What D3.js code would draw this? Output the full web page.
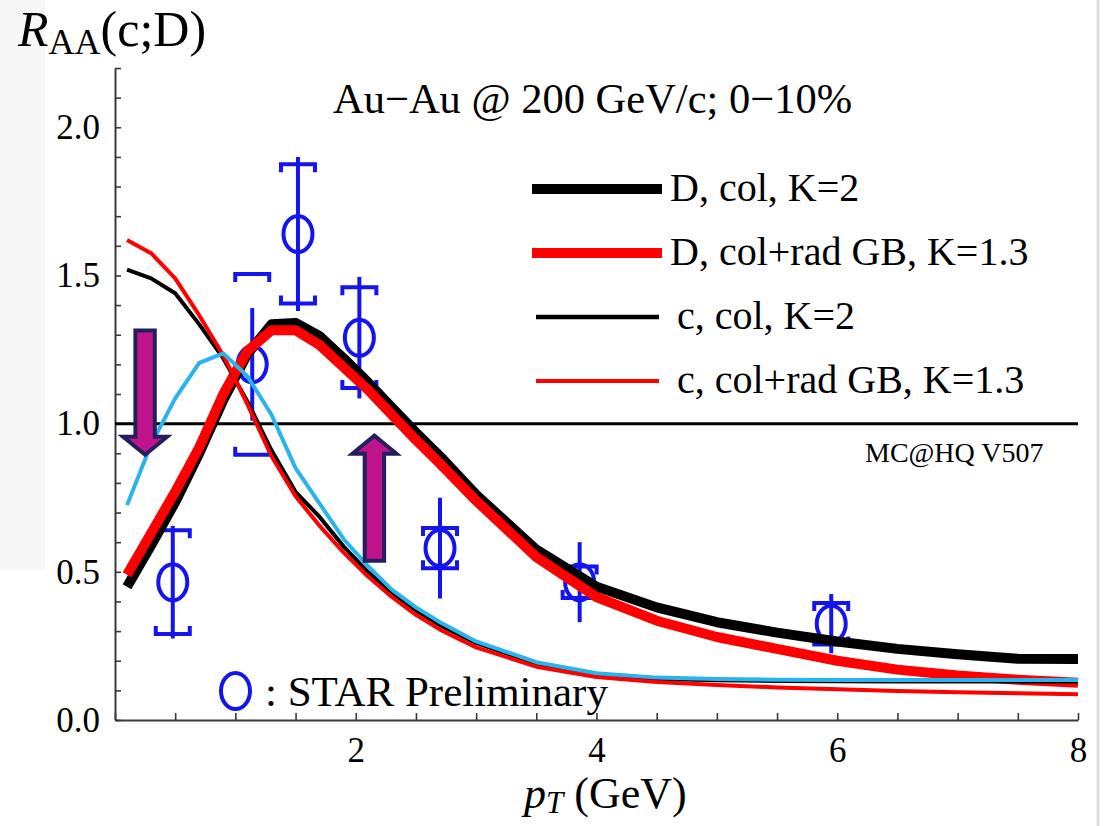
<!DOCTYPE html>
<html>
<head>
<meta charset="utf-8">
<script src="https://cdn.jsdelivr.net/npm/d3@7/dist/d3.min.js"></script>
<style>
  html, body { margin: 0; padding: 0; background: #ffffff; }
  svg { display: block; }
  text { font-family: "Liberation Serif", "Times New Roman", serif; fill: #000; }
</style>
</head>
<body>
<svg id="chart" width="1106" height="826"></svg>
<script>
// ---------------- DATA ----------------
const pT = [0.1,0.3,0.5,0.7,0.9,1.1,1.3,1.5,1.7,1.9,2.1,2.3,2.5,2.7,3.0,3.5,4.0,4.5,5.0,5.5,6.0,6.5,7.0,7.5,8.0];

// D, col, K=2 (thick black)
const dColK2 = [0.45,0.59,0.735,0.90,1.08,1.235,1.335,1.34,1.295,1.22,1.14,1.055,0.97,0.89,0.76,0.575,0.45,0.38,0.33,0.295,0.265,0.24,0.222,0.207,0.206];
// D, col+rad GB, K=1.3 (thick red)
const dColRadK13 = [0.49,0.63,0.77,0.92,1.10,1.245,1.315,1.315,1.265,1.19,1.115,1.03,0.945,0.865,0.74,0.55,0.415,0.335,0.28,0.24,0.20,0.17,0.15,0.136,0.126];
// c, col, K=2 (thin black)
const cColK2 = [1.52,1.49,1.44,1.335,1.22,1.075,0.91,0.77,0.685,0.585,0.50,0.43,0.37,0.32,0.26,0.19,0.152,0.138,0.134,0.132,0.131,0.13,0.13,0.13,0.13];
// c, col+rad GB, K=1.3 (thin red)
const cColRadK13 = [1.62,1.575,1.49,1.365,1.23,1.065,0.89,0.755,0.655,0.565,0.485,0.415,0.355,0.305,0.245,0.18,0.145,0.128,0.118,0.11,0.104,0.098,0.094,0.09,0.087];
// unlabeled cyan curve
const cyanCurve = [0.725,0.93,1.085,1.205,1.237,1.16,1.03,0.85,0.73,0.61,0.52,0.44,0.38,0.33,0.265,0.195,0.158,0.143,0.138,0.136,0.135,0.135,0.135,0.135,0.135];

// STAR Preliminary points
const starPt   = [0.48, 1.14, 1.52, 2.03, 2.70, 3.86, 5.95];
const starRaa  = [0.465, 1.20, 1.64, 1.29, 0.58, 0.465, 0.325];
const starStat = [0.19, 0.19, 0.26, 0.205, 0.17, 0.135, 0.10];
const starSys  = [0.175, 0.305, 0.235, 0.17, 0.068, 0.053, 0.07];

// Axis ticks
const xMinorTicks = [0,0.5,1,1.5,2,2.5,3,3.5,4,4.5,5,5.5,6,6.5,7,7.5,8];
const xLabelTicks = [2,4,6,8];
const yMinorTicks = [0,0.1,0.2,0.3,0.4,0.5,0.6,0.7,0.8,0.9,1.0,1.1,1.2,1.3,1.4,1.5,1.6,1.7,1.8,1.9,2.0,2.1,2.2];
const yLabelTicks = [0,0.5,1.0,1.5,2.0];

// Legend
const legendLabels = ["D, col, K=2", "D, col+rad GB, K=1.3", "c, col, K=2", "c, col+rad GB, K=1.3"];
const legendColors = ["#000000", "#ff0000", "#000000", "#ff0000"];
const legendWidths = [10, 10, 4.5, 4];

// Annotation arrows (position in data units)
const arrowPt   = [0.25, 2.155];
const arrowTail = [1.314, 0.537];
const arrowTip  = [0.895, 0.9595];

// ---------------- CHART ----------------
const svg = d3.select("#chart");
const x = d3.scaleLinear().domain([0, 8]).range([115, 1078]);
const y = d3.scaleLinear().domain([0, 2.2]).range([720, 68]);

// faint background panels of the original slide
svg.append("rect").attr("x", 0).attr("y", 0).attr("width", 45).attr("height", 570).attr("fill", "#f7f7f7");
svg.append("line").attr("x1", 1098).attr("x2", 1098).attr("y1", 0).attr("y2", 826)
   .attr("stroke", "#dcdcdc").attr("stroke-width", 3);

const axisColor = "#3a3a3a";

// Y axis
const yAx = svg.append("g").attr("transform", `translate(${x(0)},0)`)
  .call(d3.axisLeft(y).tickValues(yMinorTicks).tickSizeInner(-6).tickSizeOuter(0).tickFormat(""));
yAx.select(".domain").attr("stroke", axisColor).attr("stroke-width", 2);
yAx.selectAll(".tick line").attr("stroke", axisColor).attr("stroke-width", 1.6);

const yLab = svg.append("g").attr("transform", `translate(${x(0)},0)`)
  .call(d3.axisLeft(y).tickValues(yLabelTicks).tickSize(0).tickPadding(15).tickFormat(d3.format(".1f")));
yLab.select(".domain").remove();
yLab.selectAll("text").attr("font-size", 35).attr("font-family", "Liberation Serif, Times New Roman, serif").attr("fill", "#000");

// X axis
const xAx = svg.append("g").attr("transform", `translate(0,${y(0)})`)
  .call(d3.axisBottom(x).tickValues(xMinorTicks).tickSizeInner(-7).tickSizeOuter(0).tickFormat(""));
xAx.select(".domain").attr("stroke", axisColor).attr("stroke-width", 2);
xAx.selectAll(".tick line").attr("stroke", axisColor).attr("stroke-width", 1.6);

const xLab = svg.append("g").attr("transform", `translate(0,${y(0)})`)
  .call(d3.axisBottom(x).tickValues(xLabelTicks).tickSize(0).tickPadding(17).tickFormat(d3.format("d")));
xLab.select(".domain").remove();
xLab.selectAll("text").attr("font-size", 35).attr("font-family", "Liberation Serif, Times New Roman, serif").attr("fill", "#000");

// Reference line at 1
svg.append("line").attr("x1", x(0)).attr("x2", x(8)).attr("y1", y(1)).attr("y2", y(1))
   .attr("stroke", "#000").attr("stroke-width", 3);

// STAR points
const blue = "#1414f0";
const capHalf = 17, capTick = 8;
const gPts = svg.append("g").attr("fill", "none").attr("stroke", blue).attr("stroke-width", 4);
starPt.forEach((p, i) => {
  const cx = x(p), cy = y(starRaa[i]);
  const g = gPts.append("g");
  g.append("line").attr("x1", cx).attr("x2", cx)
    .attr("y1", y(starRaa[i] + starStat[i])).attr("y2", y(starRaa[i] - starStat[i]));
  const yt = y(starRaa[i] + starSys[i]), yb = y(starRaa[i] - starSys[i]);
  g.append("path").attr("d", `M${cx-capHalf},${yt+capTick}V${yt}H${cx+capHalf}V${yt+capTick}`);
  g.append("path").attr("d", `M${cx-capHalf},${yb-capTick}V${yb}H${cx+capHalf}V${yb-capTick}`);
  g.append("ellipse").attr("cx", cx).attr("cy", cy).attr("rx", 14.5).attr("ry", 18).attr("fill", "none");
});

// Curves
const line = d3.line().x((d, i) => x(pT[i])).y(d => y(d)).curve(d3.curveLinear);
const curves = [
  {v: dColK2, c: "#000000", w: 10},
  {v: dColRadK13, c: "#ff0000", w: 10},
  {v: cColK2, c: "#000000", w: 4},
  {v: cColRadK13, c: "#ff0000", w: 4},
  {v: cyanCurve, c: "#2ab4ee", w: 4}
];
curves.forEach(cv => {
  svg.append("path").datum(cv.v).attr("d", line)
    .attr("fill", "none").attr("stroke", cv.c).attr("stroke-width", cv.w)
    .attr("stroke-linejoin", "round").attr("stroke-linecap", "butt");
});

// Arrows
const sw = 9.7, hw = 22, hl = 18;
arrowPt.forEach((p, i) => {
  const xc = x(p), yT = y(arrowTail[i]), yP = y(arrowTip[i]);
  const dir = Math.sign(yP - yT);
  const yB = yP - dir * hl;
  const d = `M${xc-sw},${yT}L${xc+sw},${yT}L${xc+sw},${yB}L${xc+hw},${yB}L${xc},${yP}L${xc-hw},${yB}L${xc-sw},${yB}Z`;
  svg.append("path").attr("d", d).attr("fill", "#c0148d").attr("stroke", "#231f5e")
    .attr("stroke-width", 4).attr("stroke-linejoin", "miter");
});

// Legend
const legY = [189, 253, 317, 381];
const legX1 = [532, 532, 536, 536], legX2 = [662, 662, 659, 659];
const legTX = [670, 670, 677, 677];
legendLabels.forEach((lab, i) => {
  svg.append("text").attr("x", legTX[i]).attr("y", legY[i] + 12).attr("font-size", 40).text(lab);
  svg.append("line").attr("x1", legX1[i]).attr("x2", legX2[i]).attr("y1", legY[i]).attr("y2", legY[i])
    .attr("stroke", legendColors[i]).attr("stroke-width", legendWidths[i]);
});

// Annotations
svg.append("text").attr("x", 333).attr("y", 113).attr("font-size", 42.5).text("Au\u2212Au @ 200 GeV/c; 0\u221210%");
svg.append("text").attr("x", 865).attr("y", 462).attr("font-size", 28).text("MC@HQ V507");

// STAR legend
svg.append("ellipse").attr("cx", 235.5).attr("cy", 691).attr("rx", 14.5).attr("ry", 18)
  .attr("fill", "none").attr("stroke", blue).attr("stroke-width", 4);
svg.append("text").attr("x", 265).attr("y", 706).attr("font-size", 43).text(": STAR Preliminary");

// Y title
const yt = svg.append("text").attr("x", 18).attr("y", 46).attr("font-size", 50);
yt.append("tspan").attr("font-style", "italic").text("R");
yt.append("tspan").attr("font-size", 36).attr("dy", 8).text("AA");
yt.append("tspan").attr("dy", -8).text("(c;D)");

// X title
const xt = svg.append("text").attr("x", 524).attr("y", 808).attr("font-size", 44);
xt.append("tspan").attr("font-style", "italic").text("p");
xt.append("tspan").attr("font-style", "italic").attr("font-size", 31).attr("dy", 5).text("T");
xt.append("tspan").attr("dy", -5).text(" (GeV)");
</script>
</body>
</html>
